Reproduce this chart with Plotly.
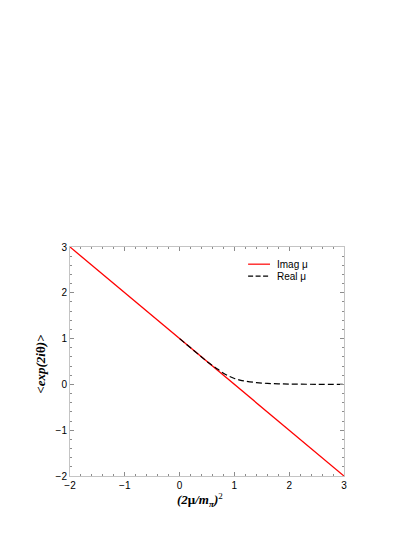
import plotly.graph_objects as go

# Imaginary chemical potential: straight line
imag_x = [-2.0, -1.0, 0.0, 1.0, 2.0, 3.0]
imag_y = [3.0, 2.0, 1.0, 0.0, -1.0, -2.0]

# Real chemical potential: phase factor
real_x = [0.0, 0.2, 0.4, 0.5, 0.6, 0.7, 0.8, 0.9, 1.0, 1.1, 1.2, 1.4, 1.6, 1.8, 2.0, 2.5, 3.0]
real_y = [1.0, 0.8, 0.6, 0.5, 0.41, 0.33, 0.245, 0.18, 0.13, 0.095, 0.07, 0.04, 0.022, 0.012, 0.007, 0.002, 0.0]

legend_names = ["Imag \u03bc", "Real \u03bc"]

RED = "#ff0000"
BLACK = "#000000"
FRAME = "#c4c4c4"
TICK = "#8c8c8c"
SANS = "Liberation Sans, Arial, sans-serif"
SERIF = "Liberation Serif, Times New Roman, serif"

fig = go.Figure()

fig.add_trace(
    go.Scatter(
        x=imag_x, y=imag_y, mode="lines", name=legend_names[0],
        line=dict(color=RED, width=1.3), showlegend=False,
    )
)
fig.add_trace(
    go.Scatter(
        x=real_x, y=real_y, mode="lines", name=legend_names[1],
        line=dict(color=BLACK, width=1.2, dash="6px,3px", shape="spline"),
        showlegend=False,
    )
)

# hand-made legend (short line samples, tight rows)
legend_rows = [(0.925, RED, "solid"), (0.873, BLACK, "5px,2.5px")]
for (ypos, color, dash), label in zip(legend_rows, legend_names):
    fig.add_shape(
        type="line", xref="paper", yref="paper",
        x0=0.65, x1=0.73, y0=ypos, y1=ypos,
        line=dict(color=color, width=1.2, dash=dash),
    )
    fig.add_annotation(
        xref="paper", yref="paper", x=0.748, y=ypos, text=label,
        showarrow=False, xanchor="left", yanchor="middle",
        font=dict(family=SANS, size=10, color="#000"),
    )

# axis titles
fig.add_annotation(
    xref="paper", yref="paper", x=0.474, y=-0.105,
    text="<b><i>(2</i>\u03bc<i>/m</i><sub><i>\u03c0</i></sub><i>)</i></b><sup>2</sup>",
    showarrow=False, xanchor="center", yanchor="middle",
    font=dict(family=SERIF, size=13, color="#000"),
)
fig.add_annotation(
    xref="paper", yref="paper", x=-0.109, y=0.491,
    text="<b><i>&lt;exp(2i</i>\u03b8<i>)&gt;</i></b>",
    textangle=-90, showarrow=False, xanchor="center", yanchor="middle",
    font=dict(family=SERIF, size=13, color="#000"),
)

axis_common = dict(
    showgrid=False, zeroline=False,
    showline=True, linecolor=FRAME, linewidth=1, mirror="ticks",
    ticks="inside", ticklen=4, tickwidth=1, tickcolor=TICK,
    dtick=1,
    minor=dict(dtick=0.2, ticks="inside", ticklen=2, tickcolor=TICK, showgrid=False),
    tickfont=dict(family=SANS, size=10, color="#000"),
)

# the page adds an 8px body margin, so the margins are shifted by it
fig.update_layout(
    width=415, height=537,
    margin=dict(l=62, r=79, t=239, b=69),
    paper_bgcolor="white", plot_bgcolor="white",
    xaxis=dict(range=[-2, 3], tick0=-2, **axis_common),
    yaxis=dict(range=[-2, 3], tick0=-2, **axis_common),
    showlegend=False,
)

fig.write_html("out.html")
